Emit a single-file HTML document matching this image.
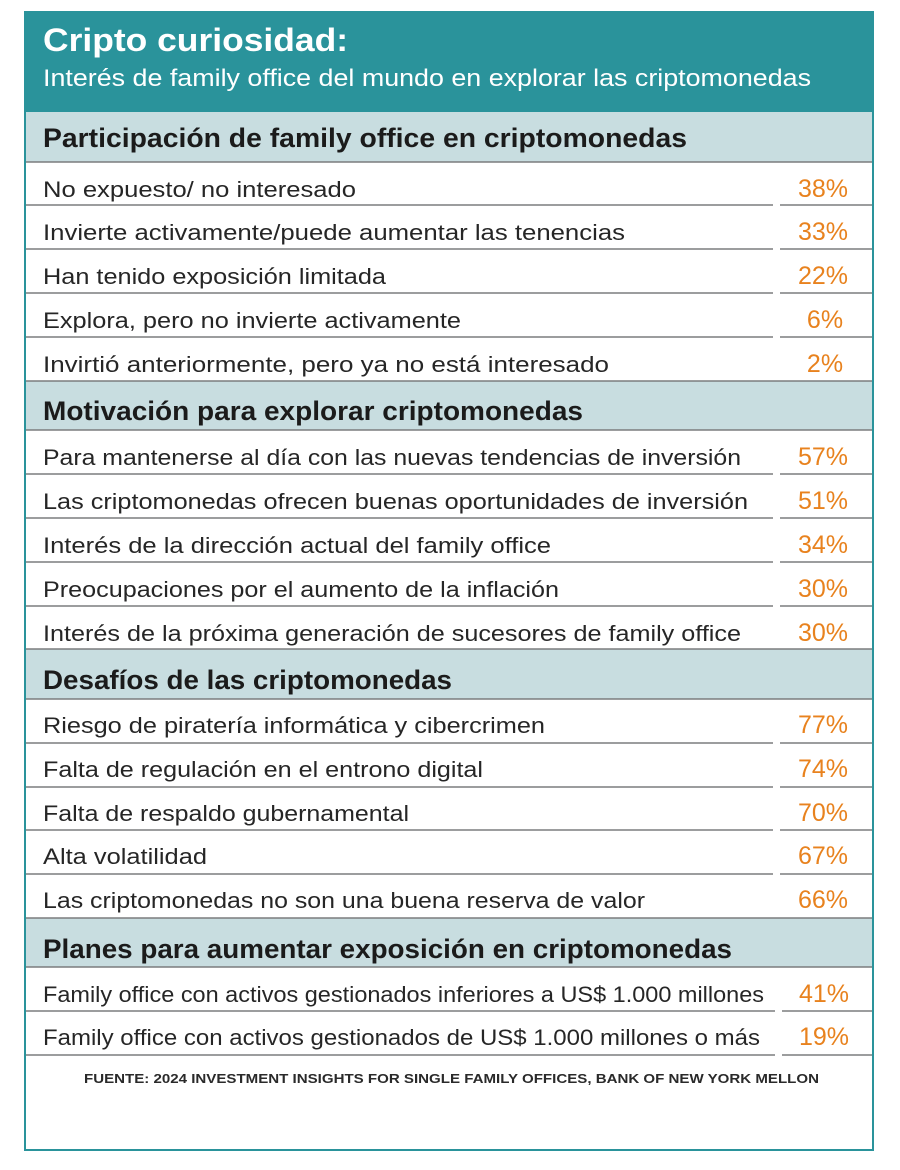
<!DOCTYPE html>
<html>
<head>
<meta charset="utf-8">
<style>
  html,body{margin:0;padding:0;background:#fff;}
  svg{display:block;}
  .t{font-family:"Liberation Sans",sans-serif;}
  .row{font-size:22px;fill:#262626;}
  .sec{font-size:27px;font-weight:bold;fill:#1b1b1b;}
  .pct{font-size:25px;fill:#e8821e;}
</style>
</head>
<body>
<svg width="900" height="1170" viewBox="0 0 900 1170" xmlns="http://www.w3.org/2000/svg">
  <rect x="0" y="0" width="900" height="1170" fill="#ffffff"/>
  <!-- header -->
  <rect x="24" y="11" width="850" height="101" fill="#2a939b"/>
  <text class="t" x="43" y="51" font-size="32" font-weight="bold" fill="#ffffff" textLength="305" lengthAdjust="spacingAndGlyphs">Cripto curiosidad:</text>
  <text class="t" x="43" y="86" font-size="24" fill="#ffffff" textLength="768" lengthAdjust="spacingAndGlyphs">Interés de family office del mundo en explorar las criptomonedas</text>

  <!-- section header fills -->
  <rect x="24" y="112" width="850" height="50" fill="#c8dde0"/>
  <rect x="24" y="381" width="850" height="49" fill="#c8dde0"/>
  <rect x="24" y="649" width="850" height="50" fill="#c8dde0"/>
  <rect x="24" y="918" width="850" height="49" fill="#c8dde0"/>

  <!-- full lines -->
  <g stroke="#7b7d7e" stroke-width="1.6">
    <line x1="24" y1="162" x2="874" y2="162"/>
    <line x1="24" y1="381" x2="874" y2="381"/>
    <line x1="24" y1="430" x2="874" y2="430"/>
    <line x1="24" y1="649" x2="874" y2="649"/>
    <line x1="24" y1="699" x2="874" y2="699"/>
    <line x1="24" y1="918" x2="874" y2="918"/>
    <line x1="24" y1="967" x2="874" y2="967"/>
  </g>
  <!-- split row lines -->
  <g stroke="#7b7d7e" stroke-width="1.4">
    <line x1="24" y1="205" x2="773" y2="205"/><line x1="780" y1="205" x2="874" y2="205"/>
    <line x1="24" y1="249" x2="773" y2="249"/><line x1="780" y1="249" x2="874" y2="249"/>
    <line x1="24" y1="293" x2="773" y2="293"/><line x1="780" y1="293" x2="874" y2="293"/>
    <line x1="24" y1="337" x2="773" y2="337"/><line x1="780" y1="337" x2="874" y2="337"/>

    <line x1="24" y1="474" x2="773" y2="474"/><line x1="780" y1="474" x2="874" y2="474"/>
    <line x1="24" y1="518" x2="773" y2="518"/><line x1="780" y1="518" x2="874" y2="518"/>
    <line x1="24" y1="562" x2="773" y2="562"/><line x1="780" y1="562" x2="874" y2="562"/>
    <line x1="24" y1="606" x2="773" y2="606"/><line x1="780" y1="606" x2="874" y2="606"/>

    <line x1="24" y1="743" x2="773" y2="743"/><line x1="780" y1="743" x2="874" y2="743"/>
    <line x1="24" y1="787" x2="773" y2="787"/><line x1="780" y1="787" x2="874" y2="787"/>
    <line x1="24" y1="830" x2="773" y2="830"/><line x1="780" y1="830" x2="874" y2="830"/>
    <line x1="24" y1="874" x2="773" y2="874"/><line x1="780" y1="874" x2="874" y2="874"/>

    <line x1="24" y1="1011" x2="775" y2="1011"/><line x1="782" y1="1011" x2="874" y2="1011"/>
    <line x1="24" y1="1055" x2="775" y2="1055"/><line x1="782" y1="1055" x2="874" y2="1055"/>
  </g>

  <!-- outer border -->
  <rect x="25" y="12" width="848" height="1138" fill="none" stroke="#2a939b" stroke-width="2"/>

  <!-- Section 1 -->
  <text class="t sec" x="43" y="147" textLength="644" lengthAdjust="spacingAndGlyphs">Participación de family office en criptomonedas</text>
  <text class="t row" x="43" y="197" textLength="313" lengthAdjust="spacingAndGlyphs">No expuesto/ no interesado</text>
  <text class="t row" x="43" y="240" textLength="582" lengthAdjust="spacingAndGlyphs">Invierte activamente/puede aumentar las tenencias</text>
  <text class="t row" x="43" y="284" textLength="343" lengthAdjust="spacingAndGlyphs">Han tenido exposición limitada</text>
  <text class="t row" x="43" y="328" textLength="418" lengthAdjust="spacingAndGlyphs">Explora, pero no invierte activamente</text>
  <text class="t row" x="43" y="372" textLength="566" lengthAdjust="spacingAndGlyphs">Invirtió anteriormente, pero ya no está interesado</text>

  <!-- Section 2 -->
  <text class="t sec" x="43" y="420" textLength="540" lengthAdjust="spacingAndGlyphs">Motivación para explorar criptomonedas</text>
  <text class="t row" x="43" y="465" textLength="698" lengthAdjust="spacingAndGlyphs">Para mantenerse al día con las nuevas tendencias de inversión</text>
  <text class="t row" x="43" y="509" textLength="705" lengthAdjust="spacingAndGlyphs">Las criptomonedas ofrecen buenas oportunidades de inversión</text>
  <text class="t row" x="43" y="553" textLength="508" lengthAdjust="spacingAndGlyphs">Interés de la dirección actual del family office</text>
  <text class="t row" x="43" y="597" textLength="516" lengthAdjust="spacingAndGlyphs">Preocupaciones por el aumento de la inflación</text>
  <text class="t row" x="43" y="641" textLength="698" lengthAdjust="spacingAndGlyphs">Interés de la próxima generación de sucesores de family office</text>

  <!-- Section 3 -->
  <text class="t sec" x="43" y="689" textLength="409" lengthAdjust="spacingAndGlyphs">Desafíos de las criptomonedas</text>
  <text class="t row" x="43" y="733" textLength="502" lengthAdjust="spacingAndGlyphs">Riesgo de piratería informática y cibercrimen</text>
  <text class="t row" x="43" y="777" textLength="440" lengthAdjust="spacingAndGlyphs">Falta de regulación en el entrono digital</text>
  <text class="t row" x="43" y="821" textLength="366" lengthAdjust="spacingAndGlyphs">Falta de respaldo gubernamental</text>
  <text class="t row" x="43" y="864" textLength="164" lengthAdjust="spacingAndGlyphs">Alta volatilidad</text>
  <text class="t row" x="43" y="908" textLength="602" lengthAdjust="spacingAndGlyphs">Las criptomonedas no son una buena reserva de valor</text>

  <!-- Section 4 -->
  <text class="t sec" x="43" y="958" textLength="689" lengthAdjust="spacingAndGlyphs">Planes para aumentar exposición en criptomonedas</text>
  <text class="t row" x="43" y="1002" textLength="721" lengthAdjust="spacingAndGlyphs">Family office con activos gestionados inferiores a US$ 1.000 millones</text>
  <text class="t row" x="43" y="1045" textLength="717" lengthAdjust="spacingAndGlyphs">Family office con activos gestionados de US$ 1.000 millones o más</text>

  <!-- Percentages -->
  <g class="t pct" text-anchor="middle">
    <text x="823" y="197">38%</text>
    <text x="823" y="240">33%</text>
    <text x="823" y="284">22%</text>
    <text x="825" y="328">6%</text>
    <text x="825" y="372">2%</text>

    <text x="823" y="465">57%</text>
    <text x="823" y="509">51%</text>
    <text x="823" y="553">34%</text>
    <text x="823" y="597">30%</text>
    <text x="823" y="641">30%</text>

    <text x="823" y="733">77%</text>
    <text x="823" y="777">74%</text>
    <text x="823" y="821">70%</text>
    <text x="823" y="864">67%</text>
    <text x="823" y="908">66%</text>

    <text x="824" y="1002">41%</text>
    <text x="824" y="1045">19%</text>
  </g>

  <!-- Footer -->
  <text class="t" x="84" y="1083" font-size="13" font-weight="bold" fill="#2a2a2a" textLength="735" lengthAdjust="spacingAndGlyphs">FUENTE: 2024 INVESTMENT INSIGHTS FOR SINGLE FAMILY OFFICES, BANK OF NEW YORK MELLON</text>
</svg>
</body>
</html>
